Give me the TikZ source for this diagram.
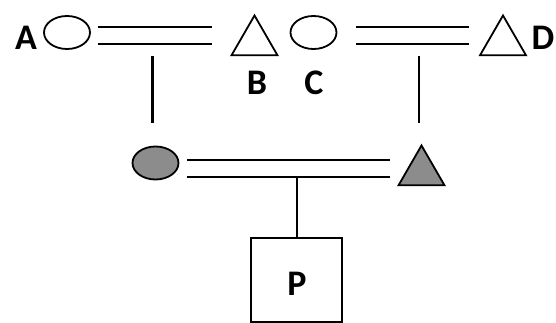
\documentclass[tikz,border=0pt]{standalone}
\usepackage{fontspec}
\setmainfont{Carlito}
\usetikzlibrary{shapes.geometric}
\definecolor{affgray}{RGB}{140,140,140}
\begin{document}
\begin{tikzpicture}[x=1pt,y=-1pt,
  person/.style={draw,line width=1.8pt,inner sep=0pt,outer sep=0pt},
  female/.style={person,ellipse,minimum width=46pt,minimum height=33pt},
  male/.style={person,regular polygon,regular polygon sides=3,minimum size=53pt},
  aff/.style={fill=affgray},
  lbl/.style={font=\fontsize{36}{40}\selectfont\bfseries,inner sep=0pt,anchor=base},
  rel/.style={line width=2.6pt},
  desc/.style={line width=2.2pt}]
\useasboundingbox (0,0) rectangle (556,323);
\clip (0,0) rectangle (556,323);
% persons
\node[female] (A) at (67,32.5) {};
\node[male] (B) at (254.5,42) {};
\node[female] (C) at (313.5,32.5) {};
\node[male] (D) at (503,42) {};
\node[female,aff] (M) at (155.5,163) {};
\node[male,aff] (F) at (421.5,172) {};
\node[person,rectangle,line width=2pt,minimum width=91pt,minimum height=84pt] (P) at (296.5,280) {};
% labels
\node[lbl] (lA) at (26,50) {A};
\node[lbl] (lB) at (257,95) {B};
\node[lbl] (lC) at (314,95) {C};
\node[lbl] (lD) at (543,50) {D};
\node[lbl] (lP) at (297,295) {P};
% marriage lines
\coordinate (m1l) at (98,27);  \coordinate (m1r) at (212,27);
\coordinate (n1l) at (98,44);  \coordinate (n1r) at (212,44);
\coordinate (m2l) at (356,27); \coordinate (m2r) at (469,27);
\coordinate (n2l) at (356,44); \coordinate (n2r) at (469,44);
\coordinate (m3l) at (187,160); \coordinate (m3r) at (390,160);
\coordinate (n3l) at (187,177); \coordinate (n3r) at (390,177);
\draw[rel] (m1l) -- (m1r);
\draw[rel] (n1l) -- (n1r);
\draw[rel] (m2l) -- (m2r);
\draw[rel] (n2l) -- (n2r);
\draw[rel] (m3l) -- (m3r);
\draw[rel] (n3l) -- (n3r);
% descent lines
\coordinate (d1t) at (152.5,56); \coordinate (d1b) at (152.5,123);
\coordinate (d2t) at (419,56);   \coordinate (d2b) at (419,123);
\coordinate (d3t) at (297,177);
\draw[desc] (d1t) -- (d1b);
\draw[desc] (d2t) -- (d2b);
\draw[desc] (d3t) -- (d3t |- P.north);
\end{tikzpicture}
\end{document}
